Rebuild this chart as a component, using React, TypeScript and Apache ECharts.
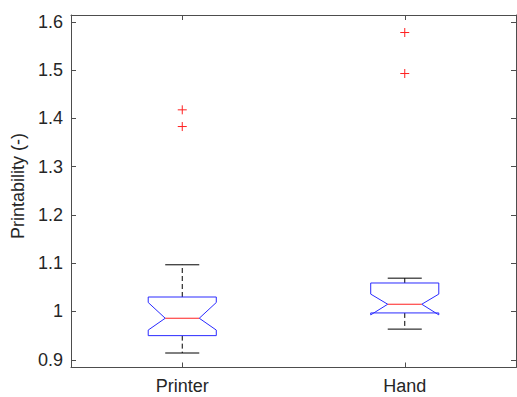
import React, { useEffect, useRef } from "react";
import * as echarts from "echarts";

const categories = ["Printer", "Hand"];
const q1 = [0.95, 0.997];
const medians = [0.986, 1.015];
const q3 = [1.03, 1.059];
const notchLow = [0.9615, 0.993];
const notchHigh = [1.0186, 1.036];
const whiskerLow = [0.914, 0.9635];
const whiskerHigh = [1.0967, 1.069];
const outlierCat = [0, 0, 1, 1];
const outlierVal = [1.4176, 1.383, 1.5777, 1.4928];
const yTicks = [0.9, 1, 1.1, 1.2, 1.3, 1.4, 1.5, 1.6];

const FONT = "'Liberation Sans', Arial, Helvetica, sans-serif";
const AXIS_COLOR = "#4d4d4d";
const TEXT_COLOR = "#262626";

export default function App() {
  const ref = useRef<HTMLDivElement>(null);
  useEffect(() => {
    if (!ref.current) return;
    const chart = echarts.init(ref.current, null, { renderer: "svg" });
    const boxData = categories.map((_, i) => [
      i,
      whiskerLow[i],
      q1[i],
      notchLow[i],
      medians[i],
      notchHigh[i],
      q3[i],
      whiskerHigh[i],
    ]);
    const outData = outlierCat.map((c, i) => [c, outlierVal[i]]);

    const yAxisBase = {
      type: "value",
      min: 0.884,
      max: 1.614,
      splitLine: { show: false },
      axisLine: { show: true, lineStyle: { color: AXIS_COLOR, width: 1 } },
    };

    chart.setOption({
      animation: false,
      grid: { left: 71, right: 1, top: 15, bottom: 29.5, containLabel: false },
      xAxis: [
        {
          type: "category",
          data: categories,
          boundaryGap: true,
          axisLine: { show: true, lineStyle: { color: AXIS_COLOR, width: 1 } },
          axisTick: { show: true, inside: true, alignWithLabel: true, length: 5, lineStyle: { color: AXIS_COLOR } },
          axisLabel: { color: TEXT_COLOR, fontSize: 18, fontFamily: FONT, margin: 9 },
        },
        {
          type: "category",
          data: categories,
          position: "top",
          boundaryGap: true,
          axisLine: { show: true, lineStyle: { color: AXIS_COLOR, width: 1 } },
          axisTick: { show: true, inside: true, alignWithLabel: true, length: 5, lineStyle: { color: AXIS_COLOR } },
          axisLabel: { show: false },
        },
      ],
      yAxis: [
        {
          ...yAxisBase,
          position: "left",
          axisTick: { show: true, inside: true, length: 5, customValues: yTicks, lineStyle: { color: AXIS_COLOR } },
          axisLabel: {
            color: TEXT_COLOR,
            fontSize: 18,
            fontFamily: FONT,
            margin: 8,
            customValues: yTicks,
            formatter: (v: number) => String(Math.round(v * 10) / 10),
          },
        },
        {
          ...yAxisBase,
          position: "right",
          axisTick: { show: true, inside: true, length: 5, customValues: yTicks, lineStyle: { color: AXIS_COLOR } },
          axisLabel: { show: false },
        },
      ],
      graphic: [
        {
          type: "text",
          x: 17.5,
          y: 186,
          rotation: Math.PI / 2,
          style: {
            text: "Printability (-)",
            fill: TEXT_COLOR,
            font: `18px ${FONT}`,
            align: "center",
            verticalAlign: "middle",
          },
        },
      ],
      series: [
        {
          type: "custom",
          xAxisIndex: 0,
          yAxisIndex: 0,
          data: boxData,
          encode: { x: 0, y: [1, 2, 3, 4, 5, 6, 7] },
          renderItem: (params: any, api: any) => {
            const c = api.value(0);
            const band = api.size([1, 0])[0];
            const w = band * 0.153;
            const cx = api.coord([c, api.value(4)])[0];
            const y = (k: number) => api.coord([c, api.value(k)])[1];
            const wLo = y(1), bq1 = y(2), nLo = y(3), med = y(4), nHi = y(5), bq3 = y(6), wHi = y(7);
            const blue = "#2a2aff";
            return {
              type: "group",
              children: [
                {
                  type: "line",
                  shape: { x1: cx, y1: bq3, x2: cx, y2: wHi },
                  style: { stroke: "#000", lineWidth: 1, lineDash: [5, 3] },
                },
                {
                  type: "line",
                  shape: { x1: cx, y1: bq1, x2: cx, y2: wLo },
                  style: { stroke: "#000", lineWidth: 1, lineDash: [5, 3] },
                },
                {
                  type: "line",
                  shape: { x1: cx - w / 2, y1: wHi, x2: cx + w / 2, y2: wHi },
                  style: { stroke: "#000", lineWidth: 1 },
                },
                {
                  type: "line",
                  shape: { x1: cx - w / 2, y1: wLo, x2: cx + w / 2, y2: wLo },
                  style: { stroke: "#000", lineWidth: 1 },
                },
                {
                  type: "polygon",
                  shape: {
                    points: [
                      [cx - w, bq1],
                      [cx - w, nLo],
                      [cx - w / 2, med],
                      [cx - w, nHi],
                      [cx - w, bq3],
                      [cx + w, bq3],
                      [cx + w, nHi],
                      [cx + w / 2, med],
                      [cx + w, nLo],
                      [cx + w, bq1],
                    ],
                  },
                  style: { fill: "#fff", stroke: blue, lineWidth: 1 },
                },
                {
                  type: "line",
                  shape: { x1: cx - w / 2, y1: med, x2: cx + w / 2, y2: med },
                  style: { stroke: "#ff2020", lineWidth: 1 },
                },
              ],
            };
          },
        },
        {
          type: "custom",
          xAxisIndex: 0,
          yAxisIndex: 0,
          data: outData,
          encode: { x: 0, y: 1 },
          renderItem: (params: any, api: any) => {
            const p = api.coord([api.value(0), api.value(1)]);
            const s = 4.5;
            return {
              type: "group",
              children: [
                { type: "line", shape: { x1: p[0] - s, y1: p[1], x2: p[0] + s, y2: p[1] }, style: { stroke: "#ff2020", lineWidth: 1 } },
                { type: "line", shape: { x1: p[0], y1: p[1] - s, x2: p[0], y2: p[1] + s }, style: { stroke: "#ff2020", lineWidth: 1 } },
              ],
            };
          },
        },
      ],
    });
    return () => chart.dispose();
  }, []);
  return <div ref={ref} style={{ width: 517, height: 397, position: "absolute", left: 0, top: 0 }} />;
}
